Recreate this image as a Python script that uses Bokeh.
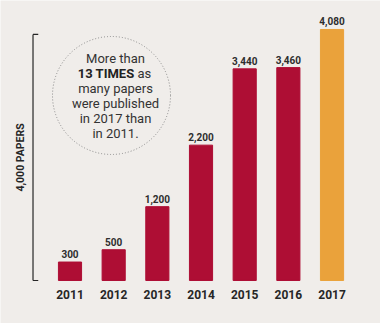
import math
from bokeh.plotting import figure
from bokeh.models import ColumnDataSource, Range1d, Label
from bokeh.core.properties import value
from bokeh.embed import file_html
from bokeh.resources import INLINE

# ---- data ----
years = ["2011", "2012", "2013", "2014", "2015", "2016", "2017"]
papers = [300, 500, 1200, 2200, 3440, 3460, 4080]
value_labels = ["300", "500", "1,200", "2,200", "3,440", "3,460", "4,080"]
bar_colors = ["#ae0e34", "#ae0e34", "#ae0e34", "#ae0e34", "#ae0e34", "#ae0e34", "#eaa23b"]
bracket_value = 4000
bracket_label = "4,000 PAPERS"
note_lines = ["More than", None, "many papers", "were published", "in 2017 than", "in 2011."]

BG = "#f0edea"
DARK = "#262626"

xs = list(range(len(years)))
src = ColumnDataSource(dict(x=xs, top=papers, year=years, lab=value_labels, color=bar_colors))

p = figure(width=380, height=323, output_backend="svg", toolbar_location=None,
           x_range=Range1d(-1.5915, 7.110), y_range=Range1d(-699, 4551),
           min_border=0, outline_line_color=None,
           background_fill_color=BG, border_fill_color=BG)
p.axis.visible = False
p.grid.visible = False

p.vbar(x="x", top="top", bottom=0, width=0.53, color="color", source=src)

p.text(x="x", y="top", text="lab", source=src, y_offset=-8,
       text_align="center", text_baseline="middle",
       text_font=value("Roboto"), text_font_style="bold",
       text_font_size="10px", text_color="#2e2e2e")

p.text(x="x", y=0, text="year", source=src, y_offset=14,
       text_align="center", text_baseline="middle",
       text_font=value("Roboto"), text_font_style="bold",
       text_font_size="12px", text_color=DARK)

# bracket
bx = -0.847
tick = 0.12
p.segment(x0=[bx, bx, bx], y0=[0, 0, bracket_value],
          x1=[bx, bx + tick, bx + tick], y1=[bracket_value, 0, bracket_value],
          line_color=DARK, line_width=1.2)
p.add_layout(Label(x=-1.135, y=bracket_value / 2, text=bracket_label, angle=math.pi / 2,
                   text_align="center", text_baseline="middle",
                   text_font="Roboto", text_font_style="bold",
                   text_font_size="10.5px", text_color=DARK))

# dotted circle callout (screen units)
cx, cy, r = 111, 95, 59
p.circle(x=[-1.5915 + cx / 43.67], y=[(280 - cy) * 16.255], radius=r,
         radius_units="screen", fill_color=None, line_color="#8a8a8a",
         line_dash="1 2", line_width=1)

H = 323
tx = 115
line_y = [58, 73, 88, 103, 118, 133]
for txt, ly in zip(note_lines, line_y):
    if txt is None:
        continue
    p.add_layout(Label(x=tx, y=H - ly, x_units="screen", y_units="screen", text=txt,
                       text_align="center", text_baseline="middle",
                       text_font="Roboto", text_font_size="13px", text_color="#333333"))
p.add_layout(Label(x=134, y=H - line_y[1], x_units="screen", y_units="screen", text="13 TIMES",
                   text_align="right", text_baseline="middle", text_font="Roboto",
                   text_font_style="bold", text_font_size="13px", text_color="#222222"))
p.add_layout(Label(x=137, y=H - line_y[1], x_units="screen", y_units="screen", text="as",
                   text_align="left", text_baseline="middle", text_font="Roboto",
                   text_font_size="13px", text_color="#333333"))

open("out.html", "w").write(file_html(p, INLINE))
